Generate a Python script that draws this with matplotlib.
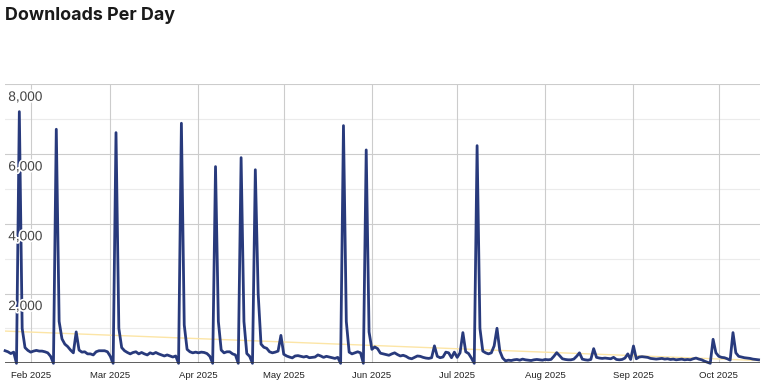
import matplotlib
matplotlib.use('Agg')
import matplotlib.pyplot as plt
import matplotlib.dates as mdates
import matplotlib.patheffects as pe
import numpy as np
import pandas as pd

# daily downloads, starting 2025-01-23
start_date = '2025-01-23'
downloads = [
    # jan
    360, 330, 280, 320, 0, 7216, 1000, 450, 370,
    # feb
    320, 350, 370, 350, 350, 330, 300, 200, 0, 6711, 1200, 700, 550, 480,
    380, 300, 900, 380, 320, 330, 270, 270, 240, 330, 360, 360, 360, 330,
    # mar
    200, 0, 6614, 1000, 450, 360, 310, 270, 310, 330, 270, 310, 270, 240, 300,
    270, 310, 270, 240, 210, 240, 210, 180, 210, 0, 6883, 1100, 400, 330, 300, 320,
    # apr
    300, 320, 310, 280, 200, 0, 5640, 1200, 380, 300, 330, 330, 270, 240, 0,
    5897, 1200, 280, 200, 0, 5550, 2000, 550, 460, 430, 330, 300, 320, 350, 800,
    # may
    260, 210, 180, 155, 210, 220, 200, 180, 200, 160, 170, 180, 240, 210, 170,
    200, 180, 160, 140, 170, 0, 6815, 1200, 320, 270, 300, 330, 300, 0, 6118, 900,
    # jun
    400, 470, 420, 290, 270, 250, 230, 270, 300, 250, 210, 230, 200, 150, 130,
    170, 210, 200, 170, 150, 140, 160, 500, 200, 160, 180, 320, 300, 160, 320,
    # jul
    170, 300, 880, 330, 280, 150, 0, 6241, 1000, 350, 300, 270, 300, 500, 1004,
    350, 150, 70, 90, 80, 100, 110, 90, 120, 100, 90, 80, 100, 110, 100, 90,
    # aug
    110, 100, 110, 200, 305, 220, 130, 110, 100, 100, 120, 200, 300, 120, 100,
    90, 110, 420, 170, 150, 140, 150, 140, 130, 170, 110, 100, 110, 150, 270, 110,
    # sep
    496, 130, 180, 190, 180, 170, 140, 130, 120, 130, 140, 120, 130, 110, 120,
    100, 110, 120, 100, 110, 100, 130, 150, 120, 100, 60, 30, 0, 688, 300,
    # oct
    200, 170, 160, 130, 90, 880, 300, 200, 180, 160, 150, 140, 120, 110, 100,
]

month_ticks = ['2025-02-01', '2025-03-01', '2025-04-01', '2025-05-01', '2025-06-01',
               '2025-07-01', '2025-08-01', '2025-09-01', '2025-10-01']
month_labels = ['Feb 2025', 'Mar 2025', 'Apr 2025', 'May 2025', 'Jun 2025',
                'Jul 2025', 'Aug 2025', 'Sep 2025', 'Oct 2025']
y_grid = [0, 1000, 2000, 3000, 4000, 5000, 6000, 7000, 8000]
y_label_vals = [2000, 4000, 6000, 8000]
y_labels = ['2,000', '4,000', '6,000', '8,000']

dates = pd.date_range(start_date, periods=len(downloads), freq='D')
x = mdates.date2num(dates)
tick_x = mdates.date2num(pd.to_datetime(month_ticks))

W, H = 761, 386
fig = plt.figure(figsize=(W / 100, H / 100), dpi=100)
ax = fig.add_axes([5 / W, 1 - 363.3 / H, 755 / W, (363.3 - 84.3) / H])

xmin, xmax = x[0] - 0.04, x[0] + 265.5
ax.set_xlim(xmin, xmax)
ax.set_ylim(0, 8000)

# gridlines
for v in y_grid:
    if v == 0:
        continue
    c = '#cccccc' if v % 2000 == 0 else '#ebebeb'
    ax.axhline(v, color=c, lw=0.8, zorder=0)
for t in tick_x:
    ax.axvline(t, color='#cccccc', lw=0.8, zorder=0)

# linear trendline
t_idx = np.arange(len(downloads))
coef = np.polyfit(t_idx, downloads, 1)
tx = np.array([xmin, xmax])
ax.plot(tx, np.polyval(coef, tx - x[0]), color='#fce5a6', lw=1.0, zorder=1)

ax.plot(x, downloads, color='#283a7c', lw=2.0, zorder=2, clip_on=False,
        solid_joinstyle='round')
ax.axhline(0, color='#333333', lw=1.1, zorder=3)

for s in ax.spines.values():
    s.set_visible(False)
ax.set_yticks([])
ax.set_xticks(tick_x)
ax.set_xticklabels(month_labels, fontsize=6.8, family='Liberation Sans', color='#222222')
ax.tick_params(axis='x', length=0, pad=5.5)

for v, lab in zip(y_label_vals, y_labels):
    ax.annotate(lab, xy=(0, v), xycoords=('axes fraction', 'data'),
                xytext=(3.3, -5.5), textcoords='offset pixels',
                ha='left', va='top', fontsize=9.8, color='#444444',
                family='Liberation Sans', zorder=5,
                path_effects=[pe.withStroke(linewidth=2.5, foreground='white')])

fig.text(5 / W, 1 - 20 / H, 'Downloads Per Day', fontsize=12.9, fontweight='bold',
         family='Inter', color='#1a1a1a', ha='left', va='baseline')

fig.savefig('out.png', dpi=100)
